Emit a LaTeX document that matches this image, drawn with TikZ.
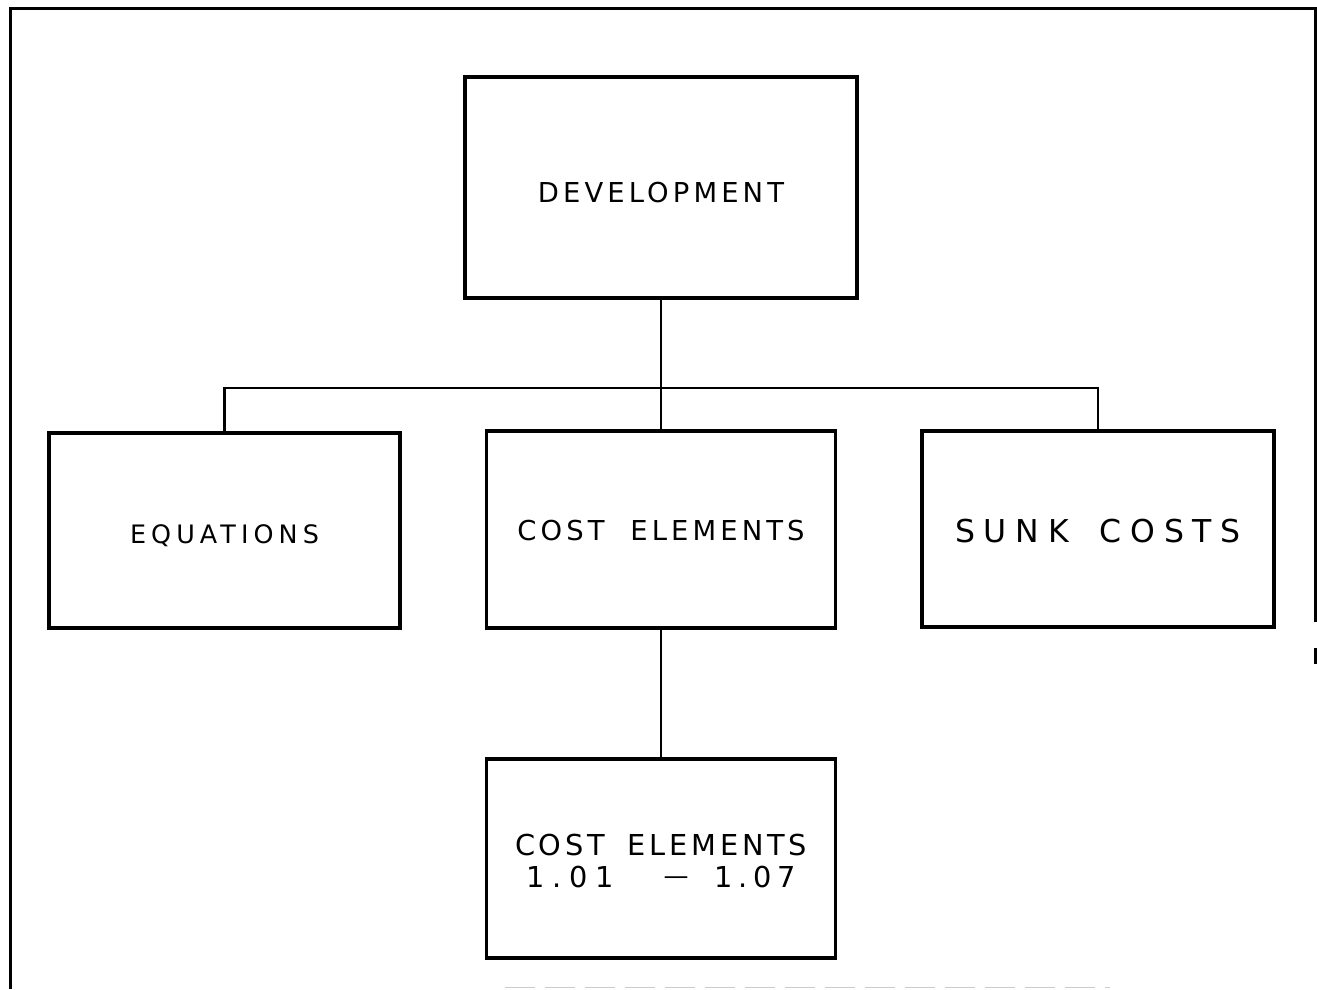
\documentclass[tikz,border=0pt]{standalone}
\usepackage{fontspec}
\setmainfont{DejaVu Sans}
\newfontfamily\plotfont{DejaVu Sans}
\tikzset{
  boxnode/.style={draw, line width=3.6pt, inner sep=0pt, outer sep=0pt, align=center},
  link/.style={line width=2.2pt},
  frameline/.style={line width=3pt},
}
\newcommand{\lblfont}[3]{\plotfont\fontsize{#1}{#2}\selectfont\addfontfeatures{LetterSpace=#3}}
\begin{document}
\begin{tikzpicture}[x=1pt,y=-1pt]
  \useasboundingbox (0,0) rectangle (1317,989);
  % sheet border (open at the bottom)
  \draw[frameline] (10,989) -- (10,8) -- (1315,8) -- (1315,622);
  \draw[frameline] (1315,648) -- (1315,664);
  \draw[gray!40, line width=1pt, dash pattern=on 30pt off 10pt] (505,987) -- (1110,987);

  % boxes
  \node[boxnode, minimum width=392pt, minimum height=221pt,
        font=\lblfont{27.4}{32}{15}] (dev) at (661,187.5)
        {\rule{0pt}{31pt}DEVELOPMENT};
  \node[boxnode, minimum width=351pt, minimum height=195pt,
        font=\lblfont{25.4}{30}{20}, text depth=0pt] (eq) at (224.5,530.5)
        {\rule{0pt}{25.6pt}EQUATIONS};
  \node[boxnode, minimum width=349pt, minimum height=197pt,
        font=\lblfont{27.4}{32}{15}] (ce) at (661,529.5)
        {\rule{0pt}{23pt}COST\hspace{13pt} ELEMENTS};
  \node[boxnode, minimum width=352pt, minimum height=196pt,
        font=\lblfont{31.5}{36}{28}] (sk) at (1098,529)
        {\rule{0pt}{28pt}SUNK\hspace{12pt} COSTS};
  \node[boxnode, minimum width=349pt, minimum height=199pt,
        font=\lblfont{28.8}{32}{13}] (low) at (661,858.5)
        {\rule{0pt}{27pt}COST\hspace{10pt} ELEMENTS\\
         {\addfontfeatures{LetterSpace=27}1.01}\hspace{50pt}\raisebox{3pt}{\fontsize{25}{30}\selectfont —}\hspace{26pt}{\addfontfeatures{LetterSpace=20}1.07}};

  % connectors
  \coordinate (bar) at (661,388);
  \draw[link] (dev.south) -- (ce.north);
  \draw[link] (eq.north) |- (bar) -| (sk.north);
  \draw[link] (ce.south) -- (low.north);
\end{tikzpicture}
\end{document}
